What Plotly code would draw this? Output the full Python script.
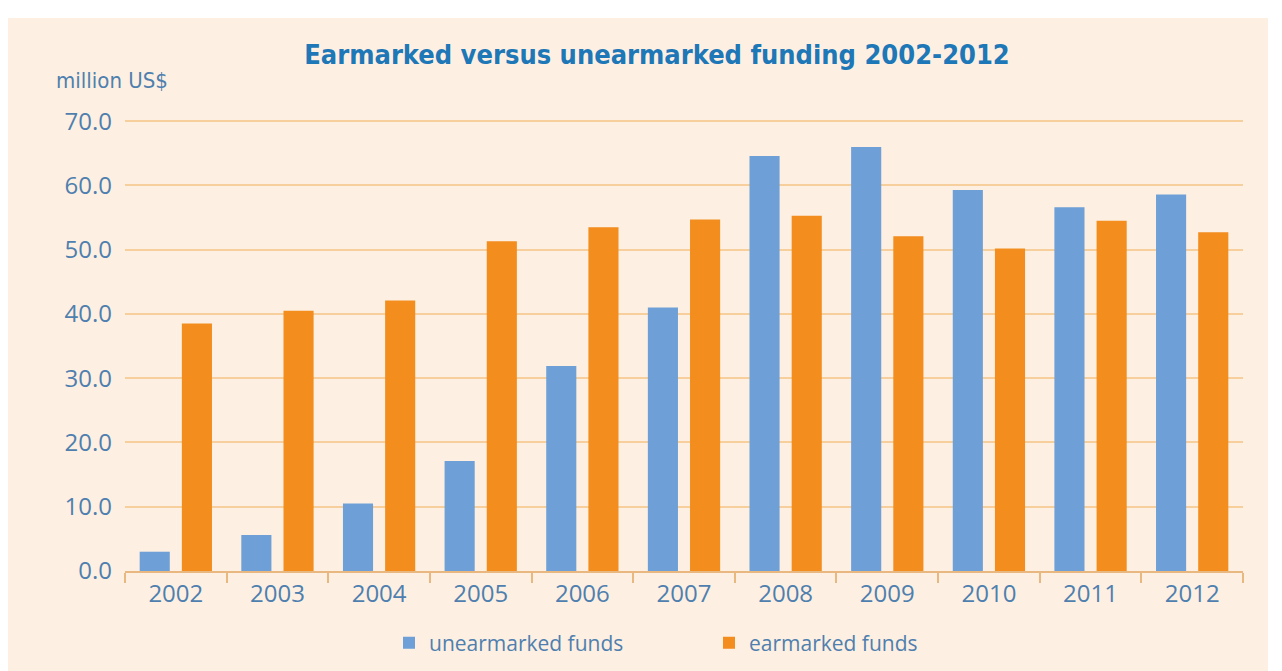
import plotly.graph_objects as go

years = ["2002", "2003", "2004", "2005", "2006", "2007", "2008", "2009", "2010", "2011", "2012"]
unearmarked = [3.0, 5.6, 10.5, 17.1, 31.9, 41.0, 64.6, 66.0, 59.3, 56.6, 58.6]
earmarked = [38.5, 40.5, 42.1, 51.3, 53.5, 54.7, 55.3, 52.1, 50.2, 54.5, 52.7]
y_ticks = [0, 10, 20, 30, 40, 50, 60, 70]
y_ticklabels = ["0.0", "10.0", "20.0", "30.0", "40.0", "50.0", "60.0", "70.0"]

OFF = 8  # page body margin
W, H = 1282 - OFF, 671 - OFF
L, R, T, B = 125 - OFF, 1243 - OFF, 118 - OFF, 571 - OFF
pw, ph = R - L, B - T

def px(x):
    return (x - OFF - L) / pw

def py(y):
    return (B - (y - OFF)) / ph

TEXT = "#4f7fae"
CREAM = "#fdf0e3"
GRID = "#f6cf9c"
BLUE = "#6e9fd6"
ORANGE = "#f28d1e"
LABEL_FONT = "Open Sans, Liberation Sans, sans-serif"
NARROW = "Liberation Sans Narrow, DejaVu Sans Condensed, sans-serif"

fig = go.Figure()
fig.add_trace(go.Bar(x=years, y=unearmarked, name="unearmarked funds",
                     marker=dict(color=BLUE, line=dict(width=0))))
fig.add_trace(go.Bar(x=years, y=earmarked, name="earmarked funds",
                     marker=dict(color=ORANGE, line=dict(width=0))))

fig.update_layout(
    width=W, height=H,
    margin=dict(l=L, r=W - R, t=T, b=H - B, autoexpand=False),
    paper_bgcolor="white",
    plot_bgcolor="rgba(0,0,0,0)",
    barmode="group",
    bargap=0.17,
    bargroupgap=0.286,
    title=dict(text="<b>Earmarked versus unearmarked funding 2002-2012</b>",
               x=(657 - OFF) / W, xref="container", xanchor="center",
               y=1 - (55 - OFF) / H, yref="container", yanchor="middle",
               font=dict(family=NARROW, size=27, color="#1e77b6")),
    xaxis=dict(type="category", showgrid=False, ticks="outside", tickson="boundaries",
               ticklen=10, tickcolor="#e9b880", tickwidth=1.5,
               showline=True, linecolor="#e9b880", linewidth=1.5,
               tickfont=dict(family=LABEL_FONT, size=24, color=TEXT), zeroline=False),
    yaxis=dict(range=[0, 70.5], tickvals=y_ticks, ticktext=y_ticklabels,
               showgrid=True, gridcolor=GRID, gridwidth=1.5,
               zeroline=False, showline=False, ticks="", ticklabelstandoff=12,
               tickfont=dict(family=LABEL_FONT, size=24, color=TEXT)),
    legend=dict(orientation="h", x=px(389), xanchor="left", y=py(643), yanchor="middle",
                entrywidth=275, entrywidthmode="pixels", bgcolor="rgba(0,0,0,0)",
                font=dict(family=LABEL_FONT, size=21, color=TEXT), itemwidth=30),
    shapes=[dict(type="rect", xref="paper", yref="paper", layer="below",
                 x0=px(8), x1=px(1268), y0=py(671), y1=py(18),
                 fillcolor=CREAM, line=dict(width=0))],
    annotations=[dict(text="million US$", xref="paper", yref="paper",
                      x=px(54), y=py(80), xanchor="left", yanchor="middle", showarrow=False,
                      font=dict(family=NARROW, size=22, color=TEXT))],
)

fig.write_html("out.html")
